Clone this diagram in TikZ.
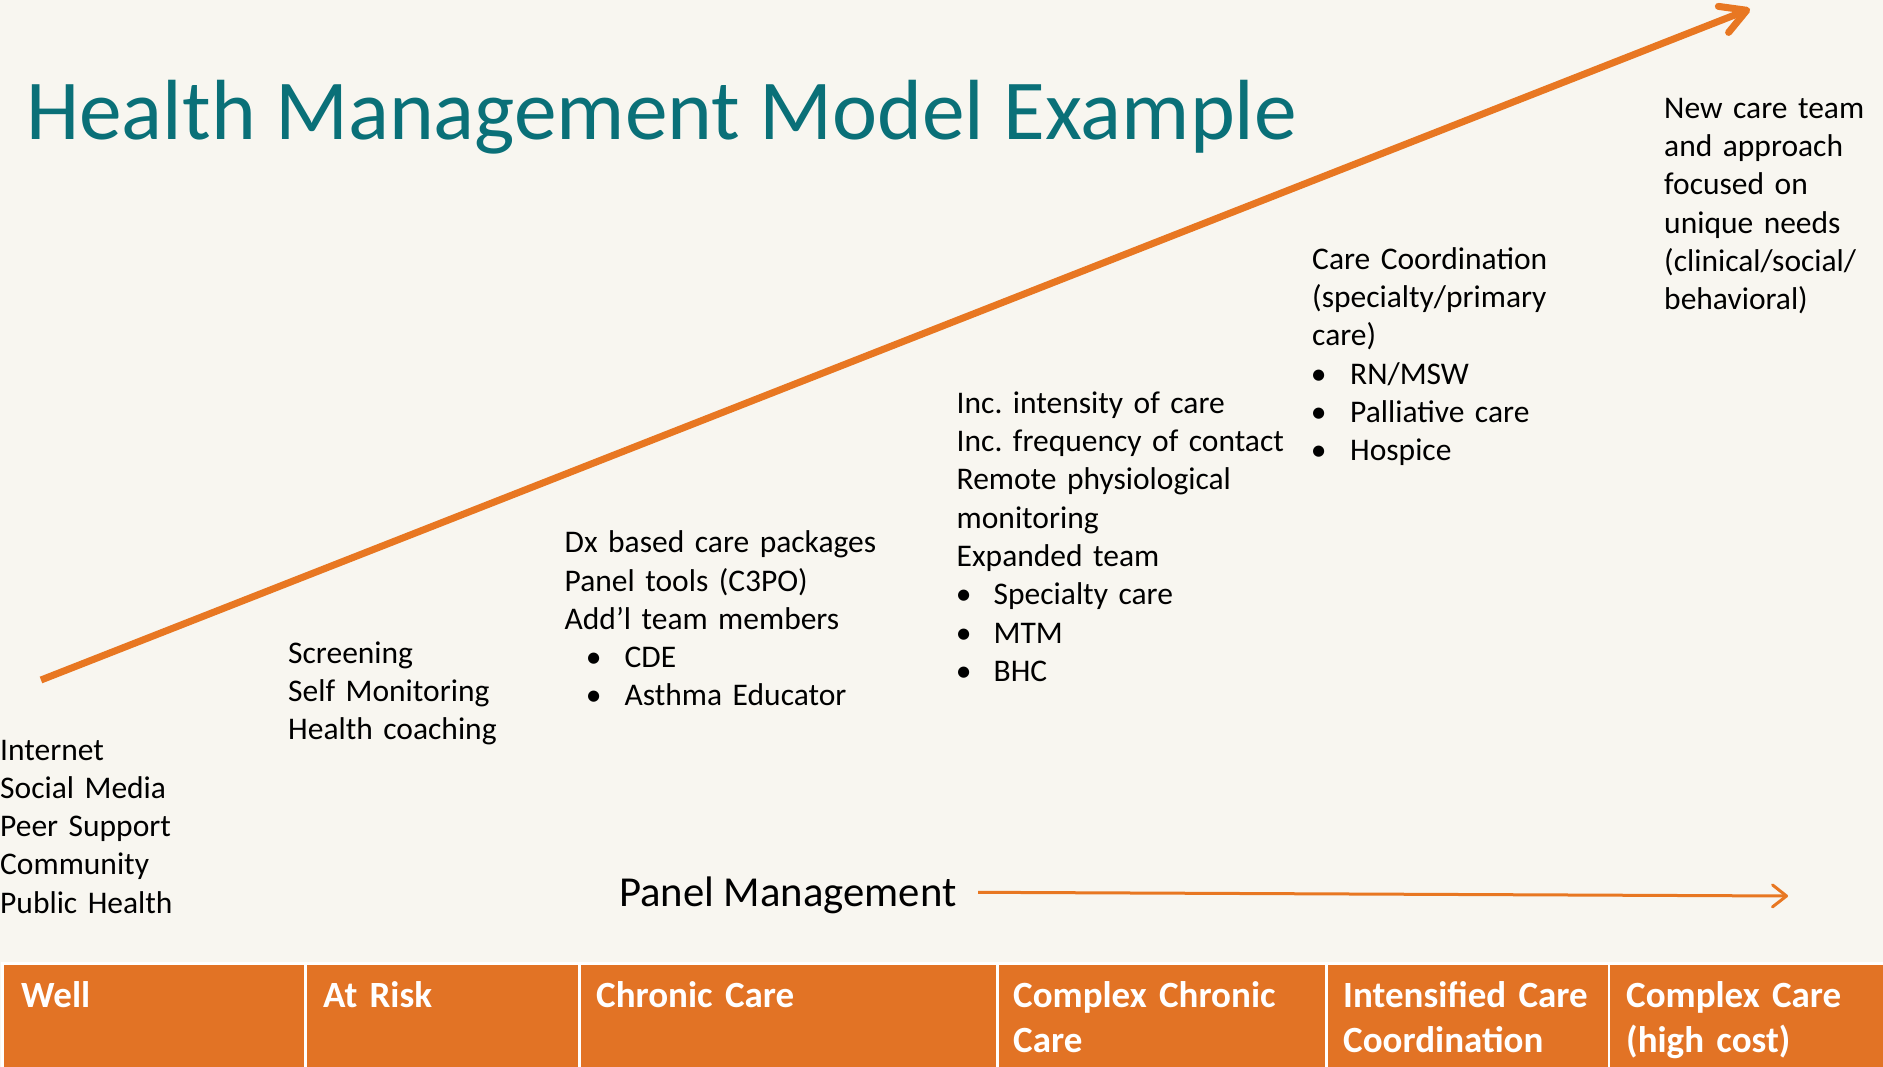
\documentclass[tikz,border=0pt]{standalone}
\usepackage{fontspec}
\setmainfont{Carlito}
\usetikzlibrary{arrows.meta}
\definecolor{bgcream}{HTML}{F8F6F0}
\definecolor{titleteal}{HTML}{0A7078}
\definecolor{arroworange}{HTML}{E87722}
\definecolor{barorange}{HTML}{E27325}
\newcommand\bitem[3]{\hspace*{#1}\makebox[0pt]{•}\hspace*{#2}#3}
\frenchspacing
\begin{document}
\begin{tikzpicture}[x=1pt,y=1pt,
  body/.style={anchor=base west, inner sep=0pt, text width=#1, align=left,
    font=\fontsize{31.5}{38.3}\selectfont, text=black},
  cell/.style={anchor=north west, inner sep=0pt, fill=barorange, draw=white,
    line width=2.5pt, minimum height=107pt, minimum width=#1},
  celltext/.style={anchor=base west, inner sep=0pt, text width=300pt, align=left,
    font=\fontsize{37}{44.5}\selectfont\bfseries, text=white},
  bigarrow/.style={draw=arroworange, line width=7pt,
    -{Straight Barb[length=25pt,width=28pt,round]}},
  panelarrow/.style={draw=arroworange, line width=3pt,
    -{Straight Barb[length=14pt,width=22pt,round]}}]
\fill[bgcream] (0,0) rectangle (1883,-1067);
\useasboundingbox (0,0) rectangle (1883,-1067);

% title
\node[anchor=base west, inner sep=0pt, text=titleteal,
  font=\fontsize{85.4}{100}\selectfont] (title) at (26,-139.3)
  {Health Management Model Example};

% rising arrow
\coordinate (rise0) at (41,-680);
\coordinate (rise1) at (1750,-9);
\draw[bigarrow] (rise0) -- (rise1);

% column texts
\node[body=230pt] (well) at (0,-760)
  {Internet\\Social Media\\Peer Support\\Community\\Public Health};
\node[body=250pt] (risk) at (288,-663.3)
  {Screening\\Self Monitoring\\Health coaching};
\node[body=350pt] (chronic) at (564.5,-552.7)
  {Dx based care packages\\Panel tools (C3PO)\\Add’l team members\\
   \bitem{29pt}{31pt}{CDE}\\\bitem{29pt}{31pt}{Asthma Educator}};
\node[body=350pt] (complex) at (956.5,-413.3)
  {Inc. intensity of care\\Inc. frequency of contact\\Remote physiological\\monitoring\\Expanded team\\
   \bitem{7pt}{30pt}{Specialty care}\\\bitem{7pt}{30pt}{MTM}\\\bitem{7pt}{30pt}{BHC}};
\node[body=310pt] (intens) at (1312,-269.3)
  {Care Coordination\\(specialty/primary\\care)\\
   \bitem{6.5pt}{31.5pt}{RN/MSW}\\\bitem{6.5pt}{31.5pt}{Palliative care}\\\bitem{6.5pt}{31.5pt}{Hospice}};
\node[body=215pt] (newteam) at (1664,-118.3)
  {New care team\\and approach\\focused on\\unique needs\\(clinical/social/\\behavioral)};

% panel management
\node[anchor=base west, inner sep=0pt, font=\fontsize{42.7}{50}\selectfont] (panel)
  at (619,-906.7) {Panel Management};
\coordinate (pan0) at (978,-892.3);
\coordinate (pan1) at (1788,-896);
\draw[panelarrow] (pan0) -- (pan1);

% bottom bar
\node[cell=303pt] (c1) at (1,-962) {};
\node[cell=274pt] (c2) at (304,-962) {};
\node[cell=418pt] (c3) at (578,-962) {};
\node[cell=329pt] (c4) at (996,-962) {};
\node[cell=282.5pt] (c5) at (1325,-962) {};
\node[cell=278pt] (c6) at (1607.5,-962) {};

\node[celltext] (t1) at (21,-1007.7) {Well};
\node[celltext] (t2) at (323,-1007.7) {At Risk};
\node[celltext] (t3) at (596,-1007.7) {Chronic Care};
\node[celltext] (t4) at (1013,-1007.7) {Complex Chronic\\Care};
\node[celltext] (t5) at (1343,-1007.7) {Intensified Care\\Coordination};
\node[celltext] (t6) at (1626,-1007.7) {Complex Care\\(high cost)};
\end{tikzpicture}
\end{document}
